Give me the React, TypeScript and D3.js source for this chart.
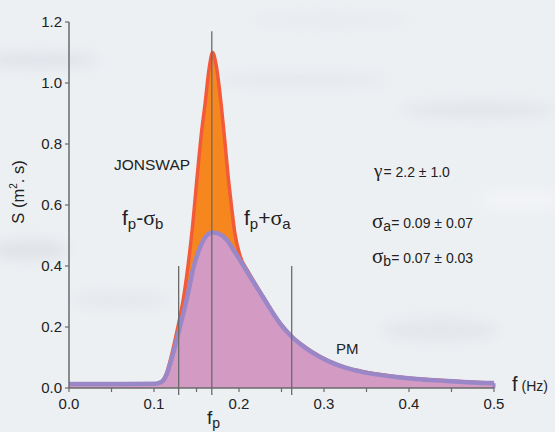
import React from "react";
import * as d3 from "d3";

const W = 555;
const H = 432;

// Frequencies (Hz) and spectral densities (m^2 s)
const pmFreq = [0, 0.05, 0.1, 0.105, 0.11, 0.115, 0.12, 0.125, 0.13, 0.135, 0.14, 0.146, 0.154, 0.162, 0.169, 0.177, 0.186, 0.193, 0.201, 0.211, 0.221, 0.23, 0.24, 0.25, 0.262, 0.275, 0.287, 0.305, 0.327, 0.345, 0.366, 0.385, 0.405, 0.425, 0.445, 0.47, 0.5];
const pmS = [0.013, 0.013, 0.014, 0.016, 0.022, 0.045, 0.09, 0.14, 0.195, 0.25, 0.31, 0.39, 0.46, 0.5, 0.51, 0.505, 0.485, 0.455, 0.42, 0.375, 0.33, 0.29, 0.245, 0.205, 0.168, 0.138, 0.115, 0.088, 0.065, 0.053, 0.043, 0.036, 0.03, 0.026, 0.023, 0.019, 0.016];

const jsFreq = [0, 0.05, 0.1, 0.105, 0.11, 0.115, 0.12, 0.125, 0.13, 0.135, 0.14, 0.145, 0.151, 0.156, 0.16, 0.165, 0.169, 0.173, 0.179, 0.183, 0.187, 0.191, 0.195, 0.201, 0.211, 0.221, 0.23, 0.24, 0.25, 0.262, 0.275, 0.287, 0.305, 0.327, 0.345, 0.366, 0.385, 0.405, 0.425, 0.445, 0.47, 0.5];
const jsS = [0.013, 0.013, 0.014, 0.016, 0.024, 0.05, 0.1, 0.16, 0.225, 0.3, 0.4, 0.52, 0.7, 0.84, 0.93, 1.05, 1.1, 1.06, 0.93, 0.82, 0.7, 0.6, 0.51, 0.435, 0.38, 0.333, 0.292, 0.247, 0.207, 0.17, 0.14, 0.117, 0.089, 0.066, 0.054, 0.044, 0.037, 0.031, 0.027, 0.024, 0.02, 0.017];

const xTickLabels = [0, 0.1, 0.2, 0.3, 0.4, 0.5];
const xMinorTicks = [0, 0.05, 0.1, 0.15, 0.2, 0.25, 0.3, 0.35, 0.4, 0.45, 0.5];
const yTicks = [0, 0.2, 0.4, 0.6, 0.8, 1.0, 1.2];

const fp = 0.168;
const fpMinusSb = 0.129;
const fpPlusSa = 0.262;
const markerTop = 0.4;
const fpTop = 1.17;

const SANS = "'Liberation Sans', Arial, sans-serif";
const SERIF = "'Liberation Serif', 'DejaVu Serif', serif";

export default function App() {
  const x = d3.scaleLinear().domain([0, 0.5]).range([69, 494]);
  const y = d3.scaleLinear().domain([0, 1.2]).range([388, 22]);

  const pm = pmFreq.map((f, i) => [f, pmS[i]] as [number, number]);
  const js = jsFreq.map((f, i) => [f, jsS[i]] as [number, number]);

  const area = d3
    .area<[number, number]>()
    .x((d) => x(d[0]))
    .y0(y(0))
    .y1((d) => y(d[1]))
    .curve(d3.curveMonotoneX);
  const line = d3
    .line<[number, number]>()
    .x((d) => x(d[0]))
    .y((d) => y(d[1]))
    .curve(d3.curveMonotoneX);

  const axisColor = "#6a6a6a";
  const textColor = "#222";

  return (
    <svg
      width={W}
      height={H}
      style={{ position: "fixed", left: 0, top: 0 }}
      xmlns="http://www.w3.org/2000/svg"
    >
      <defs>
        <filter id="blur" x="-50%" y="-50%" width="200%" height="200%">
          <feGaussianBlur stdDeviation="7" />
        </filter>
      </defs>
      <rect x={0} y={0} width={W} height={H} fill="#edf0f3" />
      <g filter="url(#blur)" opacity={0.55}>
        <ellipse cx={40} cy={60} rx={60} ry={8} fill="#d5dae1" />
        <ellipse cx={300} cy={80} rx={90} ry={7} fill="#dde1e7" />
        <ellipse cx={480} cy={110} rx={80} ry={9} fill="#d9dee4" />
        <ellipse cx={30} cy={250} rx={40} ry={10} fill="#d3d8de" />
        <ellipse cx={440} cy={330} rx={60} ry={12} fill="#dce0e5" />
        <ellipse cx={120} cy={300} rx={50} ry={8} fill="#dde1e6" />
        <ellipse cx={520} cy={200} rx={40} ry={10} fill="#f6f7f9" />
        <ellipse cx={330} cy={20} rx={80} ry={6} fill="#e0e4e9" />
      </g>

      {/* JONSWAP */}
      <path d={area(js) ?? ""} fill="#f6871f" />
      <path d={line(js) ?? ""} fill="none" stroke="#f25a3a" strokeWidth={3.5} />
      {/* PM */}
      <path d={area(pm) ?? ""} fill="#d39ac4" />
      <path d={line(pm) ?? ""} fill="none" stroke="#9a87c8" strokeWidth={4.5} />
      <line x1={x(0.5)} x2={x(0.5)} y1={y(pmS[pmS.length - 1])} y2={y(0)} stroke="#9a87c8" strokeWidth={3} />

      {/* vertical markers */}
      <line x1={x(fp)} x2={x(fp)} y1={y(fpTop)} y2={395} stroke={axisColor} strokeWidth={1.3} />
      <line x1={x(fpMinusSb)} x2={x(fpMinusSb)} y1={y(markerTop)} y2={395} stroke={axisColor} strokeWidth={1.3} />
      <line x1={x(fpPlusSa)} x2={x(fpPlusSa)} y1={y(markerTop)} y2={395} stroke={axisColor} strokeWidth={1.3} />

      {/* axes */}
      <line x1={x(0)} x2={x(0.5)} y1={y(0)} y2={y(0)} stroke={axisColor} strokeWidth={1.5} />
      <line x1={x(0)} x2={x(0)} y1={y(0)} y2={y(1.2)} stroke={axisColor} strokeWidth={1.5} />
      {xMinorTicks.map((t) => (
        <line key={"xt" + t} x1={x(t)} x2={x(t)} y1={y(0)} y2={y(0) + 4} stroke={axisColor} strokeWidth={1.2} />
      ))}
      {yTicks.map((t) => (
        <line key={"yt" + t} x1={x(0) - 4} x2={x(0)} y1={y(t)} y2={y(t)} stroke={axisColor} strokeWidth={1.2} />
      ))}
      {xTickLabels.map((t) => (
        <text key={"xl" + t} x={x(t)} y={409} textAnchor="middle" fontFamily={SANS} fontSize={15} fill={textColor}>
          {t.toFixed(1)}
        </text>
      ))}
      {yTicks.map((t) => (
        <text key={"yl" + t} x={62} y={y(t) + 5} textAnchor="end" fontFamily={SANS} fontSize={15} fill={textColor}>
          {t.toFixed(1)}
        </text>
      ))}

      {/* axis titles */}
      <text transform="translate(24,192) rotate(-90)" textAnchor="middle" fontFamily={SANS} fontSize={16.5} fill={textColor}>
        S (m<tspan dy={-7} fontSize={10}>2</tspan>
        <tspan dy={7}>. s)</tspan>
      </text>
      <text x={512} y={391} fontFamily={SANS} fill={textColor}>
        <tspan fontSize={20}>f</tspan>
        <tspan fontSize={14} dx={4}>(Hz)</tspan>
      </text>
      <text x={207} y={424} fontFamily={SANS} fill={textColor}>
        <tspan fontSize={19}>f</tspan>
        <tspan fontSize={14} dy={4}>p</tspan>
      </text>

      {/* annotations */}
      <text x={114} y={170} fontFamily={SANS} fontSize={15.5} fill={textColor}>
        JONSWAP
      </text>
      <text x={336} y={354} fontFamily={SANS} fontSize={15} fill={textColor}>
        PM
      </text>
      <text x={122} y={225} fontFamily={SANS} fill={textColor}>
        <tspan fontSize={21}>f</tspan>
        <tspan fontSize={15} dy={4}>p</tspan>
        <tspan fontSize={21} dy={-4}>-</tspan>
        <tspan fontSize={22} fontFamily={SERIF}>σ</tspan>
        <tspan fontSize={15} dy={4}>b</tspan>
      </text>
      <text x={244} y={225} fontFamily={SANS} fill={textColor}>
        <tspan fontSize={21}>f</tspan>
        <tspan fontSize={15} dy={4}>p</tspan>
        <tspan fontSize={21} dy={-4}>+</tspan>
        <tspan fontSize={22} fontFamily={SERIF}>σ</tspan>
        <tspan fontSize={15} dy={4}>a</tspan>
      </text>

      <text x={374} y={177} fontFamily={SANS} fill={textColor}>
        <tspan fontSize={19} fontFamily={SERIF}>γ</tspan>
        <tspan fontSize={14} dx={1}>= 2.2 ± 1.0</tspan>
      </text>
      <text x={372} y={228} fontFamily={SANS} fill={textColor}>
        <tspan fontSize={21} fontFamily={SERIF}>σ</tspan>
        <tspan fontSize={14} dy={3}>a</tspan>
        <tspan fontSize={14} dy={-3}>= 0.09 ± 0.07</tspan>
      </text>
      <text x={372} y={263} fontFamily={SANS} fill={textColor}>
        <tspan fontSize={21} fontFamily={SERIF}>σ</tspan>
        <tspan fontSize={14} dy={3}>b</tspan>
        <tspan fontSize={14} dy={-3}>= 0.07 ± 0.03</tspan>
      </text>
    </svg>
  );
}
